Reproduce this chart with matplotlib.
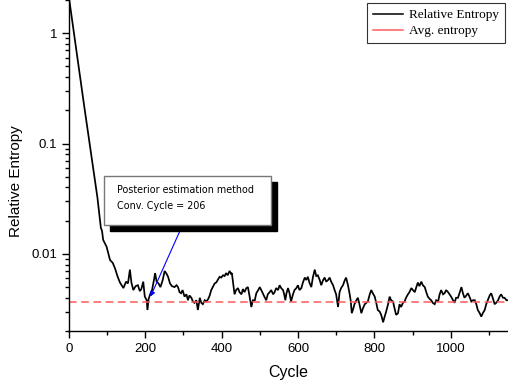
import numpy as np
import matplotlib
matplotlib.use('Agg')
import matplotlib.pyplot as plt
from matplotlib.patches import Rectangle
from matplotlib.lines import Line2D
from matplotlib.ticker import LogLocator, MultipleLocator, FuncFormatter

# ── Data (cycle, relative entropy) ────────────────────────────────
cycles = [0, 1, 20, 40, 57, 75, 84, 87, 90, 99, 108, 115, 121, 128, 134, 143, 150,
          155, 160, 164, 169, 175, 181, 186, 190, 195, 199, 204, 206, 209, 213,
          218, 223, 226, 230, 235, 240, 246, 251, 256, 260, 265, 270, 277, 282,
          286, 290, 294, 298, 303, 308, 312, 316, 321, 325, 329, 334, 338, 343,
          347, 351, 356, 360, 365, 369, 373, 377, 382, 386, 390, 395, 399, 404,
          408, 412, 416, 421, 425, 427, 431, 434, 438, 443, 447, 452, 456, 460,
          465, 469, 473, 478, 482, 487, 491, 496, 500, 504, 508, 512, 517, 521,
          526, 530, 535, 539, 543, 548, 552, 556, 561, 564, 567, 570, 574, 578,
          582, 587, 591, 596, 600, 604, 609, 613, 618, 622, 626, 630, 635, 639,
          644, 648, 652, 657, 661, 666, 670, 674, 679, 683, 687, 692, 696, 700,
          705, 709, 713, 718, 722, 726, 731, 735, 738, 741, 745, 748, 753, 757,
          761, 766, 770, 775, 779, 783, 788, 792, 796, 801, 805, 809, 814, 818,
          823, 827, 831, 836, 840, 844, 849, 853, 857, 862, 866, 870, 875, 879,
          883, 888, 892, 897, 901, 906, 910, 914, 918, 923, 927, 932, 936, 940,
          945, 949, 953, 958, 962, 967, 971, 975, 980, 984, 988, 993, 997, 1001,
          1006, 1010, 1014, 1019, 1023, 1028, 1032, 1036, 1041, 1045, 1049, 1054,
          1058, 1063, 1067, 1071, 1076, 1080, 1084, 1089, 1093, 1097, 1102, 1106,
          1110, 1115, 1119, 1124, 1128, 1132, 1137, 1141, 1146, 1150]
entropy = [2.3, 2.04, 0.69, 0.223, 0.087, 0.0324, 0.0172, 0.0162, 0.0134, 0.0116,
           0.0088, 0.0083, 0.0074, 0.0062, 0.0055, 0.0049, 0.0056, 0.0054, 0.0072,
           0.0055, 0.0047, 0.0051, 0.0052, 0.0046, 0.0048, 0.0056, 0.0041, 0.0038,
           0.0031, 0.0039, 0.0043, 0.0047, 0.0058, 0.0067, 0.0056, 0.0054, 0.0050,
           0.0058, 0.0070, 0.0066, 0.0062, 0.0054, 0.0051, 0.0050, 0.0052, 0.0050,
           0.0045, 0.0044, 0.0047, 0.0041, 0.0043, 0.0038, 0.0042, 0.0040, 0.0037,
           0.0036, 0.0038, 0.0031, 0.0040, 0.0036, 0.0035, 0.0038, 0.0037, 0.0039,
           0.0042, 0.0047, 0.0050, 0.0054, 0.0055, 0.0058, 0.0062, 0.0061, 0.0064,
           0.0063, 0.0067, 0.0064, 0.0070, 0.0066, 0.0067, 0.0052, 0.0043, 0.0047,
           0.0049, 0.0045, 0.0043, 0.0048, 0.0045, 0.0049, 0.0050, 0.0042, 0.0033,
           0.0038, 0.0038, 0.0044, 0.0047, 0.0050, 0.0047, 0.0044, 0.0041, 0.0038,
           0.0043, 0.0045, 0.0047, 0.0043, 0.0045, 0.0049, 0.0047, 0.0052, 0.0049,
           0.0047, 0.0043, 0.0038, 0.0044, 0.0049, 0.0044, 0.0037, 0.0043, 0.0047,
           0.0049, 0.0052, 0.0047, 0.0049, 0.0055, 0.0061, 0.0058, 0.0062, 0.0055,
           0.0050, 0.0061, 0.0072, 0.0063, 0.0064, 0.0058, 0.0052, 0.0058, 0.0061,
           0.0056, 0.0058, 0.0061, 0.0056, 0.0052, 0.0047, 0.0043, 0.0033, 0.0045,
           0.0049, 0.0052, 0.0057, 0.0061, 0.0052, 0.0044, 0.0038, 0.0029, 0.0032,
           0.0035, 0.0038, 0.0040, 0.0035, 0.0029, 0.0032, 0.0035, 0.0036, 0.0037,
           0.0043, 0.0047, 0.0044, 0.0041, 0.0036, 0.0031, 0.0030, 0.0028, 0.0024,
           0.0027, 0.0030, 0.0035, 0.0041, 0.0038, 0.0037, 0.0032, 0.0028, 0.0029,
           0.0035, 0.0033, 0.0036, 0.0037, 0.0040, 0.0043, 0.0045, 0.0049, 0.0047,
           0.0045, 0.0050, 0.0055, 0.0051, 0.0056, 0.0052, 0.0050, 0.0045, 0.0041,
           0.0039, 0.0038, 0.0036, 0.0035, 0.0038, 0.0037, 0.0043, 0.0047, 0.0043,
           0.0044, 0.0047, 0.0045, 0.0043, 0.0041, 0.0038, 0.0036, 0.0040, 0.0040,
           0.0044, 0.0050, 0.0044, 0.0040, 0.0042, 0.0044, 0.0041, 0.0037, 0.0038,
           0.0038, 0.0035, 0.0031, 0.0029, 0.0027, 0.0029, 0.0031, 0.0035, 0.0038,
           0.0042, 0.0044, 0.0040, 0.0035, 0.0036, 0.0038, 0.0041, 0.0043, 0.0040,
           0.0040, 0.0038, 0.0038]
avg_entropy = 0.0037
conv_cycle = 206
arrow_tip = (214, 0.0041)
arrow_tail = (298, 0.0183)

# ── Styling ───────────────────────────────────────────────────────
plt.rcParams.update({
    'font.family': ['Liberation Sans', 'DejaVu Sans'],
    'axes.linewidth': 1.0,
})
AVG_RED = '#ff5a5a'

fig = plt.figure(figsize=(5.08, 3.87), dpi=100)
ax = fig.add_axes([0.1354, 0.1447, 0.8646, 0.8553])

ax.plot(cycles, entropy, color='black', lw=1.25, solid_joinstyle='miter')
ax.axhline(avg_entropy, color=AVG_RED, lw=1.1, dashes=(5, 3))

ax.set_yscale('log')
ax.set_xlim(0, 1150)
ax.set_ylim(0.002, 2.0)

ax.spines['top'].set_visible(False)
ax.spines['right'].set_visible(False)

ax.xaxis.set_major_locator(MultipleLocator(200))
ax.xaxis.set_minor_locator(MultipleLocator(100))
ax.yaxis.set_major_locator(LogLocator(base=10, numticks=10))
ax.yaxis.set_minor_locator(LogLocator(base=10, subs=np.arange(2, 10), numticks=10))
ax.yaxis.set_major_formatter(FuncFormatter(lambda v, p: f'{v:g}'))
ax.yaxis.set_minor_formatter(FuncFormatter(lambda v, p: ''))
ax.tick_params(which='major', direction='out', length=5, width=1, labelsize=9.5)
ax.tick_params(which='minor', direction='out', length=3, width=1)

ax.set_xlabel('Cycle', fontsize=11.5, labelpad=7)
ax.set_ylabel('Relative Entropy', fontsize=11)
ax.yaxis.set_label_coords(-0.104, 0.453)

# Annotation box with drop shadow
x0, y0, w, h = 0.0801, 0.3202, 0.3803, 0.1481
dx, dy = 0.0137, -0.0181
ax.add_patch(Rectangle((x0 + dx, y0 + dy), w, h, transform=ax.transAxes,
                       facecolor='black', edgecolor='black', zorder=5, clip_on=False))
ax.add_patch(Rectangle((x0, y0), w, h, transform=ax.transAxes,
                       facecolor='white', edgecolor='#777777', lw=1.0, zorder=6,
                       clip_on=False))
ax.text(0.1097, 0.426, 'Posterior estimation method', transform=ax.transAxes,
        fontsize=6.9, family='DejaVu Sans', va='center', ha='left', zorder=7)
ax.text(0.1097, 0.3785, f'Conv. Cycle = {conv_cycle}', transform=ax.transAxes,
        fontsize=6.9, family='DejaVu Sans', va='center', ha='left', zorder=7)
ax.annotate('', xy=arrow_tip, xytext=arrow_tail,
            arrowprops=dict(arrowstyle='-|>', color='blue', lw=0.8,
                            mutation_scale=7, shrinkA=0, shrinkB=0), zorder=4)

handles = [Line2D([], [], color='black', lw=1.1),
           Line2D([], [], color=AVG_RED, lw=1.1)]
leg = ax.legend(handles, ['Relative Entropy', 'Avg. entropy'],
                loc='upper right', bbox_to_anchor=(505/508, 1 - 3/387),
                bbox_transform=fig.transFigure, borderaxespad=0,
                prop={'family': 'Liberation Serif', 'size': 9.5},
                handlelength=2.3, handletextpad=0.45, borderpad=0.45,
                labelspacing=0.3, fancybox=False, framealpha=1)
leg.get_frame().set_edgecolor('#333333')
leg.get_frame().set_linewidth(0.8)

fig.savefig('out.png', dpi=100, facecolor='white')
